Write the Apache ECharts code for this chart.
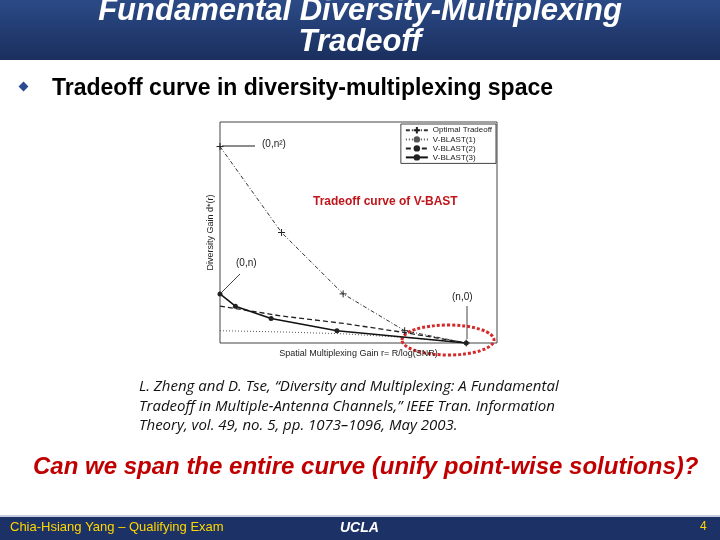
<!DOCTYPE html>
<html><head><meta charset="utf-8">
<script src="https://cdn.jsdelivr.net/npm/echarts@6/dist/echarts.min.js"></script>
<style>html,body{margin:0;padding:0;background:#fff}#c{width:720px;height:540px}</style>
</head><body><div id="c"></div>
<script>
const optimal = [[0,16],[1,9],[2,4],[3,1],[4,0]];
const vblast1 = [[0,1],[1,0.9],[2,0.75],[3,0.45],[4,0]];
const vblast2 = [[0,3],[1,2.2],[2,1.6],[3,0.85],[4,0]];
const vblast3 = [[0,4],[0.25,3],[0.83,2],[1.9,1],[4,0]];
const seriesNames = ['Optimal Tradeoff','V-BLAST(1)','V-BLAST(2)','V-BLAST(3)'];

const chart = echarts.init(document.getElementById('c'));
const tf = {fontFamily:'Liberation Sans'};
chart.setOption({
  animation:false,
  backgroundColor:'#fff',
  grid:{left:220,top:122,right:223,bottom:197,show:true,borderColor:'#444',borderWidth:1},
  xAxis:{type:'value',min:0,max:4.5,axisLine:{show:false},axisTick:{show:false},axisLabel:{show:false},splitLine:{show:false},
    name:'Spatial Multiplexing Gain r= R/log(SNR)',nameLocation:'middle',nameGap:6,nameTextStyle:{fontSize:9,color:'#222',...tf}},
  yAxis:{type:'value',min:0,max:18,axisLine:{show:false},axisTick:{show:false},axisLabel:{show:false},splitLine:{show:false},
    name:'Diversity Gain d*(r)',nameLocation:'middle',nameGap:5,nameTextStyle:{fontSize:9,color:'#222',...tf}},
  legend:{right:224,top:124,orient:'vertical',itemGap:1,itemWidth:22,itemHeight:8,padding:[2,4],
    backgroundColor:'#fff',borderColor:'#444',borderWidth:1,textStyle:{fontSize:8,color:'#222',...tf},data:seriesNames},
  series:[
    {name:seriesNames[0],type:'line',data:optimal,symbol:'path://M-1,0L1,0M0,-1L0,1',symbolSize:7,
      itemStyle:{color:'#222',borderColor:'#222',borderWidth:1},lineStyle:{color:'#333',width:1,type:[4,2,1,2]}},
    {name:seriesNames[1],type:'line',data:vblast1,symbol:'none',itemStyle:{color:'#555'},lineStyle:{color:'#555',width:1,type:[1,2]}},
    {name:seriesNames[2],type:'line',data:vblast2,symbol:'none',itemStyle:{color:'#222'},lineStyle:{color:'#222',width:1.3,type:[5,3]}},
    {name:seriesNames[3],type:'line',data:vblast3,symbol:'circle',symbolSize:5,itemStyle:{color:'#222'},lineStyle:{color:'#111',width:1.5}}
  ],
  graphic:[
    {type:'rect',shape:{x:0,y:0,width:720,height:60},style:{fill:new echarts.graphic.LinearGradient(0,0,0,1,[{offset:0,color:'#2b4a86'},{offset:1,color:'#1a2f5e'}])}},
    {type:'text',x:360,y:-4,style:{text:'Fundamental Diversity-Multiplexing\nTradeoff',align:'center',fill:'#fff',font:'italic bold 31px Liberation Sans',lineHeight:31}},
    {type:'rect',shape:{x:20,y:83,width:7,height:7},rotation:Math.PI/4,originX:23.5,originY:86.5,style:{fill:'#2a4b90'}},
    {type:'text',x:52,y:77,style:{text:'Tradeoff curve in diversity-multiplexing space',fill:'#000',font:'bold 23px Liberation Sans'}},
    {type:'text',x:313,y:196,style:{text:'Tradeoff curve of V-BAST',fill:'#c0161b',font:'bold 12px Liberation Sans'}},
    {type:'text',x:262,y:139,style:{text:'(0,n²)',fill:'#222',font:'10px Liberation Sans'}},
    {type:'line',shape:{x1:255,y1:146,x2:222,y2:146},style:{stroke:'#666',lineWidth:1.5}},
    {type:'text',x:236,y:258,style:{text:'(0,n)',fill:'#222',font:'10px Liberation Sans'}},
    {type:'line',shape:{x1:240,y1:274,x2:222,y2:292},style:{stroke:'#444',lineWidth:1}},
    {type:'text',x:452,y:292,style:{text:'(n,0)',fill:'#222',font:'10px Liberation Sans'}},
    {type:'line',shape:{x1:467,y1:306,x2:467,y2:339},style:{stroke:'#444',lineWidth:1}},
    {type:'ellipse',shape:{cx:448,cy:340,rx:46,ry:15},style:{fill:'none',stroke:'#d42a2a',lineWidth:3,lineDash:[3,2]}},
    {type:'text',x:139,y:377,style:{text:'L. Zheng and D. Tse, “Diversity and Multiplexing: A Fundamental\nTradeoff in Multiple-Antenna Channels,” IEEE Tran. Information\nTheory, vol. 49, no. 5, pp. 1073–1096, May 2003.',fill:'#111',font:'italic 15px Open Sans',lineHeight:19.5}},
    {type:'text',x:33,y:455,style:{text:'Can we span the entire curve (unify point-wise solutions)?',fill:'#c00000',font:'italic bold 24px Liberation Sans'}},
    {type:'rect',shape:{x:0,y:517,width:720,height:23},style:{fill:'#1c3266'}},
    {type:'line',shape:{x1:0,y1:516,x2:720,y2:516},style:{stroke:'#8c9cc0',lineWidth:1}},
    {type:'text',x:10,y:521,style:{text:'Chia-Hsiang Yang – Qualifying Exam',fill:'#ffd700',font:'13px Liberation Sans'}},
    {type:'text',x:340,y:521,style:{text:'UCLA',fill:'#fff',font:'italic bold 14px Liberation Sans'}},
    {type:'text',x:700,y:521,style:{text:'4',fill:'#ffd700',font:'12px Liberation Sans'}}
  ]
});
</script></body></html>
